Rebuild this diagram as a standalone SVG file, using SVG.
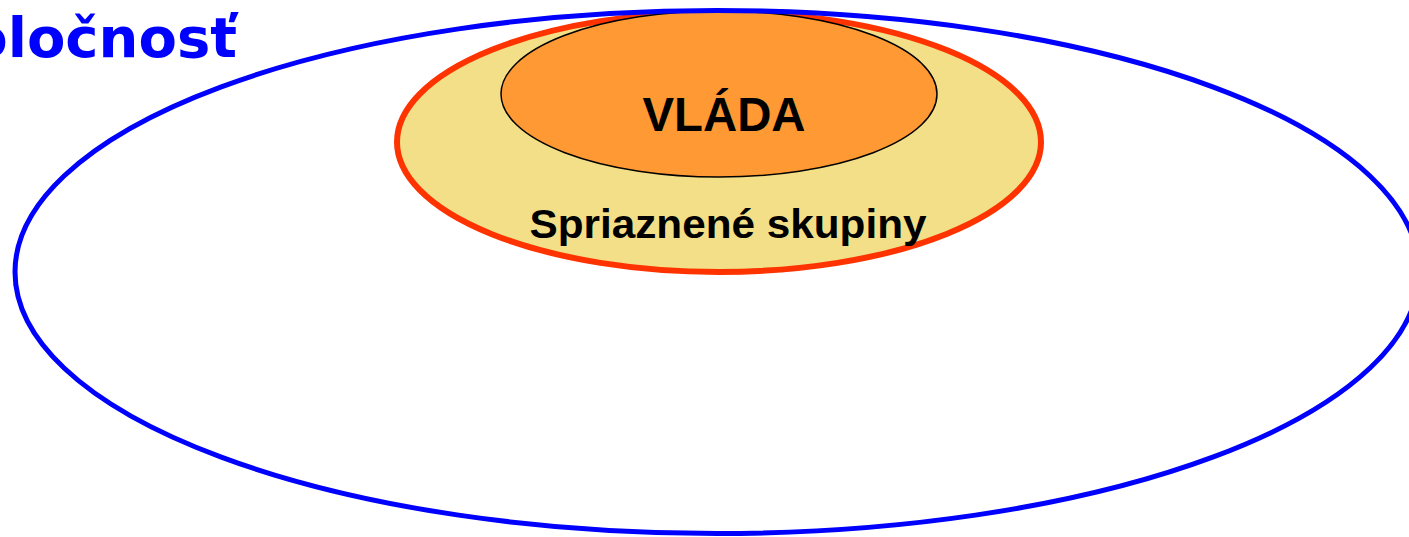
<svg xmlns="http://www.w3.org/2000/svg" width="1409" height="537" viewBox="0 0 1409 537">
<style>
.lbl{font-family:"Liberation Sans",Arial,sans-serif;font-weight:bold;fill:#000;text-anchor:middle}
.title{font-family:"DejaVu Sans",Verdana,sans-serif;font-weight:bold;fill:#0000FF;text-anchor:end}
</style>
<rect width="1409" height="537" fill="#fff"/>
<g id="spriaznene">
<ellipse cx="719" cy="142" rx="322" ry="130" fill="#F3DF87" stroke="#FF3300" stroke-width="6"/>
<text class="lbl" x="728" y="238" font-size="40" textLength="397" lengthAdjust="spacingAndGlyphs">Spriaznené skupiny</text>
</g>
<g id="vlada">
<ellipse cx="719" cy="94" rx="218" ry="83" fill="#FF9933" stroke="#000" stroke-width="1.5"/>
<text class="lbl" x="724" y="131" font-size="48" textLength="163" lengthAdjust="spacingAndGlyphs">VLÁDA</text>
</g>
<g id="spolocnost">
<ellipse cx="717" cy="272" rx="702" ry="261.5" fill="none" stroke="#0000FF" stroke-width="5"/>
<text class="title" x="237" y="57" font-size="56">Spoločnosť</text>
</g>
</svg>
